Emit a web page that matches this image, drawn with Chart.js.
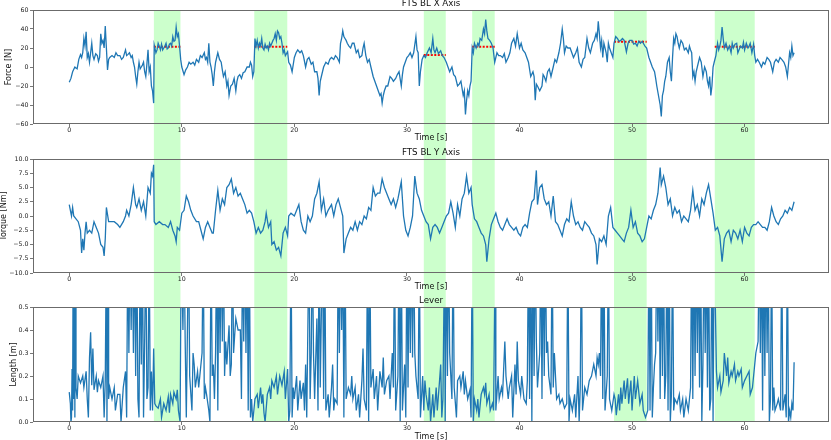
<!DOCTYPE html>
<html>
<head>
<meta charset="utf-8">
<script src="https://cdn.jsdelivr.net/npm/chart.js@4.4.1/dist/chart.umd.min.js"></script>
<style>
  html, body { margin: 0; padding: 0; background: #fff; }
  #wrap { position: relative; width: 831px; height: 440px; }
  #wrap canvas { position: absolute; left: 0; top: 0; }
</style>
</head>
<body>
<div id="wrap">
  <canvas id="c1" width="831" height="440"></canvas>
  <canvas id="c2" width="831" height="440"></canvas>
  <canvas id="c3" width="831" height="440"></canvas>
</div>
<script>
// --- data ---
const xTicks = [0, 10, 20, 30, 40, 50, 60];
const forceTicks = [-60, -40, -20, 0, 20, 40, 60];
const torqueTicks = [-10, -7.5, -5, -2.5, 0, 2.5, 5, 7.5, 10];
const leverTicks = [0, 0.1, 0.2, 0.3, 0.4, 0.5];

// highlighted windows [s] and the red reference force level in each
const bandStart = [7.52, 16.44, 31.5, 35.8, 48.4, 57.35];
const bandEnd = [9.88, 19.37, 33.45, 37.8, 51.3, 60.9];
const refForce = [21.4, 21.4, 12.6, 21.4, 26.6, 21.4];

const forceTime = [
  0, 0.15, 0.3, 0.5, 0.7, 0.85, 1.0, 1.1, 1.2, 1.3,
  1.4, 1.5, 1.6, 1.7, 1.8, 1.9, 2.0, 2.1, 2.2, 2.35,
  2.5, 2.6, 2.7, 2.8, 2.9, 3.0, 3.1, 3.2, 3.3, 3.4,
  3.5, 3.6, 3.8, 4.0, 4.15, 4.3, 4.5, 4.65, 4.8, 5.0,
  5.1, 5.2, 5.35, 5.5, 5.6, 5.7, 5.8, 5.9, 6.0, 6.1,
  6.2, 6.3, 6.4, 6.5, 6.6, 6.7, 6.8, 6.9, 7.0, 7.1,
  7.2, 7.3, 7.4, 7.5,
  7.55, 7.7, 7.8, 7.9, 8.0, 8.1, 8.2, 8.3, 8.4, 8.5,
  8.6, 8.7, 8.8, 8.9, 9.0, 9.1, 9.2, 9.3, 9.4, 9.5,
  9.6, 9.7, 9.8, 9.9, 10.0, 10.2, 10.35, 10.5, 10.65, 10.8,
  11.0, 11.15, 11.3, 11.5, 11.65, 11.8, 12.0, 12.1, 12.2, 12.3,
  12.4, 12.5, 12.6, 12.7, 12.8, 12.9, 13.0, 13.1, 13.2, 13.35,
  13.5, 13.6, 13.7, 13.85, 14.0, 14.1, 14.2, 14.35, 14.5, 14.65,
  14.8, 14.9, 15.0, 15.15, 15.3, 15.45, 15.6, 15.8, 16.0, 16.1,
  16.2, 16.3, 16.4,
  16.5, 16.6, 16.7, 16.8, 16.9, 17.0, 17.1, 17.2, 17.3, 17.4,
  17.5, 17.6, 17.7, 17.8, 17.9, 18.0, 18.1, 18.2, 18.3, 18.4,
  18.5, 18.6, 18.7, 18.8, 18.9, 19.0, 19.1, 19.2, 19.3, 19.4,
  19.5, 19.65, 19.8, 20.0, 20.15, 20.3, 20.5, 20.65, 20.8, 21.0,
  21.15, 21.3, 21.5, 21.65, 21.8, 22.0, 22.1, 22.2, 22.3, 22.4,
  22.6, 22.8, 23.0, 23.15, 23.3, 23.5, 23.65, 23.8, 24.0, 24.1,
  24.2, 24.3, 24.4, 24.5, 24.6, 24.7, 24.85, 25.0, 25.15, 25.3,
  25.5, 25.65, 25.8, 26.0, 26.1, 26.2, 26.35, 26.5, 26.65, 26.8,
  27.0, 27.15, 27.3, 27.45, 27.6, 27.7, 27.8, 27.9, 28.0, 28.15,
  28.3, 28.5, 28.65, 28.8, 29.0, 29.15, 29.3, 29.5, 29.6, 29.7,
  29.85, 30.0, 30.15, 30.3, 30.45, 30.6, 30.8, 30.9, 31.0, 31.1,
  31.2, 31.35, 31.5, 31.65, 31.8, 32.0, 32.15, 32.3, 32.4, 32.5,
  32.65, 32.8, 33.0, 33.15, 33.3, 33.5, 33.65, 33.8, 34.0, 34.15,
  34.3, 34.5, 34.65, 34.8, 35.0, 35.1, 35.2, 35.3, 35.4, 35.5,
  35.6, 35.7, 35.8, 35.9, 36.0, 36.15, 36.3, 36.4, 36.5, 36.65,
  36.8, 36.9, 37.0, 37.1, 37.2, 37.35, 37.5, 37.65, 37.8, 38.0,
  38.15, 38.3, 38.5, 38.65, 38.8, 39.0, 39.15, 39.3, 39.5, 39.65,
  39.8, 40.0, 40.15, 40.3, 40.5, 40.65, 40.8, 41.0, 41.2, 41.3,
  41.4, 41.5, 41.6, 41.8, 42.0, 42.1, 42.2, 42.35, 42.5, 42.65,
  42.8, 43.0, 43.15, 43.3, 43.5, 43.65, 43.8, 43.9, 44.0, 44.15,
  44.3, 44.5, 44.65, 44.8, 45.0, 45.15, 45.3, 45.5, 45.65, 45.8,
  46.0, 46.15, 46.3, 46.5, 46.65, 46.8, 46.9, 47.0, 47.1, 47.2,
  47.3, 47.4, 47.5, 47.6, 47.7, 47.8, 47.9, 48.0, 48.15, 48.3,
  48.4, 48.55, 48.7, 48.85, 49.0, 49.15, 49.3, 49.4, 49.5, 49.65,
  49.8, 50.0, 50.15, 50.3, 50.45, 50.6, 50.75, 50.9, 51.0, 51.15,
  51.3, 51.5, 51.65, 51.8, 52.0, 52.1, 52.2, 52.35, 52.5, 52.6,
  52.7, 52.8, 52.9, 53.0, 53.15, 53.3, 53.4, 53.5, 53.6, 53.7,
  53.8, 53.9, 54.0, 54.1, 54.2, 54.35, 54.5, 54.65, 54.8, 55.0,
  55.1, 55.2, 55.3, 55.4, 55.5, 55.6, 55.7, 55.8, 56.0, 56.15,
  56.3, 56.45, 56.6, 56.7, 56.8, 56.9, 57.0, 57.1, 57.2, 57.3,
  57.45, 57.6, 57.7, 57.8, 57.9, 58.0, 58.1, 58.2, 58.35, 58.5,
  58.65, 58.8, 58.9, 59.0, 59.15, 59.3, 59.4, 59.5, 59.65, 59.8,
  59.9, 60.0, 60.15, 60.3, 60.4, 60.5, 60.65, 60.8, 60.9, 61.0,
  61.15, 61.3, 61.5, 61.65, 61.8, 62.0, 62.15, 62.3, 62.5, 62.65,
  62.8, 63.0, 63.15, 63.3, 63.5, 63.65, 63.8, 64.0, 64.1, 64.2,
  64.3, 64.4
];
const forceValue = [
  -16, -12, -5, 0, -2, 8, 13, 10, 15, 30,
  22, 37, 10, 14, 5, 15, 25, 12, 8, 14,
  12, 6, 10, 35, 25, 28, 20, 43, 20, -3,
  8, 10, 12, 10, 15, 12, 12, 8, 10, 18,
  12, 13, 15, 10, 12, 5, 0, -10, -18, -5,
  5, -2, 0, 2, 5, -5, -10, 3, 18, -5,
  0, -20, -25, -38,
  23, 15, 18, 25, 22, 18, 24, 18, 20, 22,
  25, 19, 20, 24, 25, 22, 32, 27, 28, 42,
  32, 35, 22, 8, 0, -8, -3, 0, 5, 3,
  5, 2, 8, 5, 12, 10, 15, 8, 10, 5,
  25, 5, 0, -8, -20, -5, 5, 10, 15, 8,
  5, -3, -10, -5, -20, -15, -30, -20, -18, -12,
  -25, -15, -10, -8, -12, -6, -5, 0, 0, 5,
  2, -10, -5,
  30, 22, 28, 20, 25, 22, 30, 20, 18, 24,
  20, 22, 18, 25, 22, 25, 28, 30, 35, 28,
  38, 36, 30, 32, 25, 15, 18, 12, 14, 16,
  5, 2, -5, 10, 15, 18, 15, 17, 12, 0,
  8, 10, 3, 5, -5, -5, -12, -30, -15, -10,
  0, 5, 3, 8, 10, 8, 12, 10, 5, 25,
  30, 38, 32, 30, 28, 25, 22, 20, 25, 25,
  15, 18, 10, 12, 20, 25, 12, 5, 8, 0,
  -10, -15, -20, -25, -30, -28, -38, -30, -25, -20,
  -20, -10, -12, -15, -12, -8, -5, -20, -8, 0,
  5, 10, 12, 15, 10, 15, 32, 18, 15, -20,
  -5, 8, 12, 10, 15, 20, 15, 30, 18, 15,
  20, 14, 17, 12, 10, 5, 0, -5, 0, -8,
  -10, -20, -18, -15, -30, -25, -50, -35, -25, -30,
  -20, -15, 20, 15, 25, 20, 25, 22, 30, 28,
  40, 35, 50, 38, 30, 28, 25, 20, 5, 15,
  12, 12, 10, 14, 5, 10, 15, 25, 30, 22,
  35, 20, 25, 18, 15, 10, 5, -10, -5, -10,
  -35, -18, -20, -25, -20, -8, -10, -15, -5, -2,
  -10, 0, 8, 5, 15, 25, 40, 30, 15, 22,
  20, 20, 15, 10, 15, 20, 5, 0, 8, 10,
  30, 20, 15, 25, 28, 35, 30, 48, 35, 20,
  28, 10, 25, 20, 15, 5, 25, 20, 15, 10,
  25, 32, 30, 27, 28, 30, 28, 22, 16, 25,
  28, 28, 24, 25, 22, 27, 25, 27, 25, 22,
  20, 10, 5, 0, -5, -12, -20, -30, -40, -52,
  -30, -25, -15, -10, 5, 10, -5, -15, 10, 30,
  25, 35, 32, 25, 20, 28, 25, 18, 20, 15,
  22, 18, 15, -10, -5, -15, -5, 0, 10, 5,
  -10, 0, -5, -15, -20, -10, -30, -20, 0, 5,
  12, 25, 18, 22, 28, 42, 30, 20, 25, 18,
  22, 15, 25, 20, 24, 25, 15, 18, 22, 20,
  26, 18, 25, 20, 22, 25, 15, 24, 12, 5,
  8, 5, 0, 5, 3, 10, 8, 5, -5, 5,
  8, 5, 10, 8, 5, 0, -10, 15, 10, 22,
  12, 15
];

const torqueTime = [
  0, 0.1, 0.2, 0.3, 0.4, 0.6, 0.8, 1.0, 1.1, 1.2,
  1.3, 1.4, 1.5, 1.6, 1.8, 2.0, 2.2, 2.4, 2.6, 2.8,
  3.0, 3.1, 3.2, 3.3, 3.5, 3.7, 4.0, 4.3, 4.5, 4.8,
  5.0, 5.1, 5.3, 5.5, 5.6, 5.7, 5.9, 6.0, 6.2, 6.4,
  6.6, 6.8, 7.0, 7.2, 7.3, 7.4, 7.5, 7.55, 7.7, 8.0,
  8.3, 8.5, 8.8, 9.0, 9.2, 9.4, 9.5, 9.6, 9.8, 10.0,
  10.2, 10.4, 10.6, 10.8, 11.0, 11.3, 11.5, 11.7, 11.9, 12.1,
  12.3, 12.5, 12.7, 12.8, 13.0, 13.2, 13.4, 13.6, 13.8, 14.0,
  14.2, 14.4, 14.6, 14.8, 15.0, 15.2, 15.4, 15.6, 15.8, 16.0,
  16.2, 16.4, 16.6, 16.8, 17.0, 17.2, 17.4, 17.5, 17.7, 17.9,
  18.0, 18.2, 18.4, 18.6, 18.8, 19.0, 19.2, 19.4, 19.5, 19.7,
  20.0, 20.2, 20.4, 20.6, 20.8, 21.0, 21.2, 21.4, 21.6, 21.8,
  22.0, 22.2, 22.4, 22.6, 22.8, 23.0, 23.3, 23.5, 23.7, 23.9,
  24.1, 24.3, 24.4, 24.6, 24.8, 25.0, 25.2, 25.4, 25.6, 25.8,
  26.0, 26.2, 26.4, 26.6, 26.8, 27.0, 27.2, 27.4, 27.6, 27.8,
  28.0, 28.2, 28.4, 28.6, 28.8, 29.0, 29.2, 29.4, 29.5, 29.7,
  29.9, 30.1, 30.3, 30.5, 30.7, 30.9, 31.1, 31.3, 31.5, 31.7,
  31.9, 32.1, 32.3, 32.5, 32.7, 32.9, 33.1, 33.3, 33.5, 33.7,
  33.9, 34.1, 34.3, 34.5, 34.7, 34.9, 35.1, 35.3, 35.5, 35.7,
  35.8, 36.0, 36.2, 36.4, 36.6, 36.8, 37.0, 37.1, 37.3, 37.5,
  37.7, 37.9, 38.1, 38.3, 38.5, 38.7, 38.9, 39.1, 39.3, 39.5,
  39.7, 39.9, 40.1, 40.3, 40.5, 40.7, 40.9, 41.1, 41.3, 41.5,
  41.6, 41.8, 42.0, 42.2, 42.4, 42.6, 42.8, 43.0, 43.2, 43.4,
  43.6, 43.8, 44.0, 44.2, 44.4, 44.6, 44.8, 45.0, 45.2, 45.4,
  45.6, 45.8, 46.0, 46.2, 46.4, 46.6, 46.8, 46.9, 47.1, 47.3,
  47.5, 47.7, 47.9, 48.1, 48.3, 48.5, 48.7, 48.9, 49.1, 49.3,
  49.5, 49.7, 49.9, 50.1, 50.3, 50.5, 50.7, 50.9, 51.1, 51.3,
  51.5, 51.7, 51.9, 52.1, 52.3, 52.5, 52.6, 52.8, 53.0, 53.2,
  53.4, 53.6, 53.8, 54.0, 54.2, 54.4, 54.6, 54.8, 55.0, 55.2,
  55.4, 55.6, 55.8, 56.0, 56.2, 56.4, 56.6, 56.8, 57.0, 57.2,
  57.4, 57.6, 57.8, 58.0, 58.2, 58.4, 58.6, 58.8, 59.0, 59.2,
  59.4, 59.6, 59.8, 60.0, 60.2, 60.4, 60.6, 60.8, 61.0, 61.2,
  61.4, 61.6, 61.8, 62.0, 62.2, 62.4, 62.6, 62.8, 63.0, 63.2,
  63.4, 63.6, 63.8, 64.0, 64.2, 64.4
];
const torqueValue = [
  2, 1, 0, 1.5, 0, -0.5, -1, -2.5, -6.5, -4,
  -6, -3, -1, -3, -2.5, -3, -1, -2, -3, -5,
  -5.5, -7, -4, 1.5, -1, -1, -1, -1.5, -2, -1,
  0, 1, 0, 2, 3.5, 5, 2, 1.5, 3, 1,
  2.5, 0, 5, 4, 7.5, 7, 9, -1, -1.5, -1,
  -1.5, -1.5, -2, -1, -2.5, -3.5, -4.5, -2, -2.5, 0.5,
  1, 3.5, 2.5, 1, 0, -1, -1, -2.5, -4, -2,
  -1, -2, -3, -3, 1, 4.5, 1, 3, 2, 5,
  5.5, 6.5, 4, 5, 3.5, 4, 3, 2, 0.5, 1,
  0.5, -1, -3, -2, -3, -2.5, -1, 0.5, -2, -1,
  -5, -4.5, -6, -5.5, -7, -3, -2, -3.5, 0, 0.5,
  0, 1, 2, -1, -2.5, -3, 0, -1, 0, 3,
  4, 6, 1, 3, 0, 1, 2, 0, 2, 3,
  1.5, 0, -6.5, -4, -3, -2, -2.5, -1, -2.5, -1,
  -1.5, 0, -0.5, 1.5, 1, 5, 3.5, 4, 4, 6.5,
  5, 4, 3, 2, 3, 1.5, 3, 5, 6, 0,
  -2.5, -3.5, -2, 0, 7, 4, 3, 1, 0, -1,
  -1.5, -4, -2, -1.5, -2, -3, -2, -1, 0, 0.5,
  2.5, 0.5, -2, 2, 0, 3, 4, 7, 4, 5,
  2, -0.5, -1, -2, -3, -3.5, -5, -8, -4, -1.5,
  -0.5, 0.5, -1, -2, -2.5, -1.5, -0.5, -1.5, -2, -2.5,
  -2, -3, -3.5, -2, -1.5, -2, 0.5, 2.5, 3, 8,
  2, 5, 5.5, 3, 2, 2.5, 0, 3.5, -1, -1.5,
  -2.5, -3.5, -1.5, -0.5, -1, 2.5, 0, -1.5, -1, -2,
  -2.5, -1, -1.5, -2, -3, -3.5, -5, -8.5, -4, -4.5,
  -3.5, -5, 0, 1.5, -2, -2.5, -3, -3.5, -4, -4.5,
  -3, -2, 1, -2, -1, -3, -3.5, -4.5, -4, -2,
  0, -0.5, 1, 2, 4, 8.5, 5.5, 7, 5, 2,
  3, 0, 1.5, 0.5, 1, -1, 0, -0.5, -1, 1,
  4.5, 1, 2, 0, 3, 2, 4, 5.5, 3, 0.5,
  -2.5, -2, -3.5, -8, -4, -3, -2.5, -4.5, -2.5, -3,
  -4, -2.5, -4.5, -2, -3, -3.5, -2, -1.5, -1.5, -1,
  -1.5, -2, -2, -2.5, -1, 1.5, 0, -1, -1.5, -0.5,
  0, 1, 0.5, 1.5, 1, 2.5
];

// lever spikes run above the axis top (0.5) and get clipped, as in the picture
const leverTime = [
  0, 0.1, 0.15, 0.2, 0.25, 0.3, 0.35, 0.4, 0.45, 0.5,
  0.55, 0.6, 0.7, 0.8, 1.0, 1.2, 1.3, 1.5, 1.6, 1.7,
  1.8, 1.9, 2.0, 2.1, 2.2, 2.4, 2.5, 2.6, 2.8, 3.0,
  3.1, 3.2, 3.3, 3.35, 3.45, 3.5, 3.6, 3.8, 4.0, 4.1,
  4.3, 4.5, 4.6, 4.8, 5.0, 5.1, 5.2, 5.3, 5.4, 5.5,
  5.6, 5.7, 5.8, 5.9, 6.0, 6.1, 6.2, 6.3, 6.4, 6.5,
  6.6, 6.7, 6.8, 6.9, 7.0, 7.1, 7.2, 7.3, 7.4, 7.5,
  7.6, 7.7, 7.9, 8.1, 8.2, 8.4, 8.6, 8.8, 8.9, 9.0,
  9.2, 9.3, 9.5, 9.6, 9.7, 9.85, 9.95, 10.1, 10.2, 10.3,
  10.4, 10.5, 10.6, 10.7, 10.9, 11.0, 11.1, 11.2, 11.4, 11.5,
  11.6, 11.8, 11.9, 12.0, 12.1, 12.2, 12.4, 12.5, 12.6, 12.7,
  12.8, 12.9, 13.0, 13.1, 13.2, 13.3, 13.4, 13.5, 13.6, 13.7,
  13.8, 13.9, 14.0, 14.2, 14.3, 14.4, 14.5, 14.6, 14.7, 14.8,
  15.0, 15.2, 15.3, 15.4, 15.5, 15.6, 15.7, 15.8, 15.9, 16.0,
  16.1, 16.2, 16.3, 16.4, 16.5, 16.7, 16.8, 17.0, 17.1, 17.2,
  17.3, 17.4, 17.6, 17.8, 17.9, 18.0, 18.2, 18.4, 18.5, 18.7,
  18.9, 19.1, 19.2, 19.4, 19.5, 19.6, 19.7, 19.8, 19.9, 20.0,
  20.2, 20.3, 20.5, 20.6, 20.8, 20.9, 21.0, 21.1, 21.3, 21.4,
  21.5, 21.6, 21.7, 21.8, 22.0, 22.1, 22.2, 22.3, 22.5, 22.6,
  22.7, 22.8, 23.0, 23.1, 23.3, 23.4, 23.5, 23.6, 23.8, 23.9,
  24.0, 24.1, 24.2, 24.3, 24.4, 24.5, 24.6, 24.8, 25.0, 25.1,
  25.2, 25.4, 25.5, 25.7, 25.8, 26.0, 26.1, 26.2, 26.4, 26.5,
  26.6, 26.7, 26.8, 27.0, 27.1, 27.3, 27.4, 27.6, 27.8, 27.9,
  28.0, 28.2, 28.4, 28.5, 28.7, 28.8, 28.9, 29.0, 29.2, 29.3,
  29.4, 29.5, 29.6, 29.8, 29.9, 30.0, 30.1, 30.2, 30.3, 30.4,
  30.5, 30.6, 30.7, 30.8, 31.0, 31.1, 31.2, 31.4, 31.5, 31.6,
  31.7, 31.9, 32.0, 32.1, 32.3, 32.4, 32.6, 32.7, 32.9, 33.0,
  33.1, 33.2, 33.35, 33.4, 33.5, 33.6, 33.7, 33.8, 34.0, 34.1,
  34.2, 34.4, 34.5, 34.7, 34.8, 35.0, 35.1, 35.2, 35.4, 35.6,
  35.7, 35.8, 35.9, 36.0, 36.2, 36.3, 36.4, 36.6, 36.8, 36.9,
  37.0, 37.1, 37.3, 37.4, 37.6, 37.7, 37.85, 37.9, 38.1, 38.2,
  38.4, 38.5, 38.7, 38.8, 39.0, 39.1, 39.3, 39.4, 39.6, 39.7,
  39.8, 39.9, 40.1, 40.2, 40.4, 40.6, 40.7, 40.8, 40.9, 41.0,
  41.1, 41.2, 41.3, 41.4, 41.5, 41.6, 41.8, 41.9, 42.0, 42.1,
  42.2, 42.3, 42.4, 42.5, 42.6, 42.8, 42.9, 43.0, 43.1, 43.3,
  43.5, 43.6, 43.8, 44.0, 44.2, 44.3, 44.4, 44.5, 44.7, 44.9,
  45.0, 45.2, 45.3, 45.4, 45.5, 45.6, 45.8, 46.0, 46.2, 46.4,
  46.6, 46.8, 46.9, 47.0, 47.1, 47.2, 47.3, 47.4, 47.5, 47.6,
  47.8, 47.9, 48.0, 48.2, 48.4, 48.5, 48.6, 48.8, 48.9, 49.0,
  49.1, 49.3, 49.4, 49.6, 49.7, 49.9, 50.0, 50.2, 50.3, 50.5,
  50.7, 50.9, 51.0, 51.2, 51.4, 51.5, 51.6, 51.7, 51.8, 51.9,
  52.0, 52.1, 52.2, 52.3, 52.4, 52.5, 52.6, 52.7, 52.8, 52.9,
  53.0, 53.1, 53.2, 53.3, 53.4, 53.5, 53.6, 53.7, 53.8, 54.0,
  54.2, 54.3, 54.5, 54.6, 54.8, 55.0, 55.2, 55.3, 55.4, 55.5,
  55.6, 55.7, 55.8, 55.9, 56.0, 56.1, 56.2, 56.3, 56.4, 56.5,
  56.6, 56.7, 56.8, 56.9, 57.0, 57.1, 57.2, 57.3, 57.5, 57.6,
  57.8, 57.9, 58.1, 58.2, 58.4, 58.5, 58.6, 58.8, 58.9, 59.1,
  59.2, 59.4, 59.5, 59.7, 59.8, 60.0, 60.2, 60.4, 60.5, 60.7,
  60.9, 61.0, 61.2, 61.3, 61.4, 61.5, 61.6, 61.7, 61.8, 61.9,
  62.0, 62.1, 62.2, 62.3, 62.4, 62.5, 62.6, 62.7, 62.9, 63.0,
  63.2, 63.3, 63.4, 63.6, 63.7, 63.8, 63.9, 64.0, 64.1, 64.2,
  64.3, 64.4
];
const leverValue = [
  0.13, 0.08, 0.0, 0.02, 0.23, 0.05, 0.8, 0.1, 0.8, 0.02,
  0.8, 0.15, 0.1, 0.2, 0.17, 0.2, 0.15, 0.22, 0.1, 0.02,
  0.28, 0.39, 0.16, 0.32, 0.14, 0.2, 0.13, 0.18, 0.15, 0.2,
  0.02, 0.18, 0.8, 0.0, 0.8, 0.1, 0.15, 0.1, 0.15, 0.05,
  0.12, 0.12, 0.0, 0.15, 0.22, 0.02, 0.8, 0.3, 0.8, 0.4,
  0.8, 0.3, 0.8, 0.2, 0.8, 0.1, 0.02, 0.8, 0.25, 0.8,
  0.02, 0.35, 0.8, 0.1, 0.15, 0.8, 0.05, 0.22, 0.05, 0.32,
  0.08, 0.07, 0.06, 0.1, 0.02, 0.08, 0.05, 0.11, 0.04, 0.12,
  0.08, 0.13, 0.1, 0.14, 0.05, 0.0, 0.8, 0.4, 0.8, 0.35,
  0.02, 0.4, 0.8, 0.2, 0.05, 0.3, 0.25, 0.15, 0.22, 0.15,
  0.2, 0.3, 0.8, 0.1, 0.15, 0.12, 0.05, 0.0, 0.8, 0.2,
  0.25, 0.1, 0.3, 0.8, 0.05, 0.8, 0.3, 0.8, 0.35, 0.8,
  0.2, 0.35, 0.25, 0.42, 0.2, 0.25, 0.8, 0.3, 0.38, 0.45,
  0.4, 0.4, 0.1, 0.8, 0.35, 0.8, 0.3, 0.8, 0.05, 0.8,
  0.02, 0.1, 0.0, 0.05, 0.1, 0.12, 0.06, 0.15, 0.08, 0.12,
  0.04, 0.0, 0.12, 0.15, 0.1, 0.18, 0.15, 0.2, 0.12, 0.2,
  0.16, 0.22, 0.1, 0.23, 0.0, 0.05, 0.8, 0.02, 0.15, 0.1,
  0.2, 0.05, 0.18, 0.1, 0.17, 0.05, 0.25, 0.02, 0.8, 0.1,
  0.3, 0.8, 0.3, 0.1, 0.45, 0.05, 0.8, 0.15, 0.8, 0.1,
  0.8, 0.05, 0.12, 0.02, 0.15, 0.25, 0.05, 0.1, 0.08, 0.8,
  0.3, 0.8, 0.4, 0.8, 0.02, 0.8, 0.1, 0.15, 0.12, 0.2,
  0.1, 0.15, 0.05, 0.12, 0.02, 0.18, 0.32, 0.1, 0.05, 0.8,
  0.0, 0.8, 0.15, 0.23, 0.1, 0.2, 0.05, 0.22, 0.15, 0.28,
  0.12, 0.18, 0.2, 0.1, 0.3, 0.15, 0.8, 0.05, 0.2, 0.8,
  0.0, 0.8, 0.05, 0.25, 0.02, 0.8, 0.15, 0.8, 0.3, 0.8,
  0.28, 0.8, 0.3, 0.2, 0.1, 0.8, 0.02, 0.2, 0.05, 0.18,
  0.12, 0.05, 0.15, 0.0, 0.12, 0.02, 0.15, 0.05, 0.18, 0.25,
  0.02, 0.1, 0.8, 0.0, 0.8, 0.2, 0.8, 0.3, 0.1, 0.8,
  0.15, 0.02, 0.18, 0.2, 0.15, 0.22, 0.12, 0.18, 0.1, 0.14,
  0.02, 0.8, 0.0, 0.1, 0.05, 0.1, 0.02, 0.12, 0.15, 0.12,
  0.17, 0.08, 0.12, 0.05, 0.08, 0.05, 0.8, 0.05, 0.2, 0.1,
  0.15, 0.12, 0.35, 0.2, 0.1, 0.15, 0.2, 0.02, 0.25, 0.12,
  0.35, 0.18, 0.12, 0.2, 0.1, 0.08, 0.18, 0.8, 0.1, 0.8,
  0.0, 0.8, 0.2, 0.8, 0.35, 0.15, 0.3, 0.8, 0.1, 0.8,
  0.2, 0.8, 0.3, 0.35, 0.2, 0.12, 0.8, 0.15, 0.3, 0.1,
  0.12, 0.08, 0.1, 0.06, 0.08, 0.8, 0.0, 0.1, 0.05, 0.12,
  0.02, 0.2, 0.0, 0.15, 0.8, 0.05, 0.15, 0.12, 0.18, 0.2,
  0.25, 0.2, 0.28, 0.25, 0.3, 0.2, 0.8, 0.1, 0.8, 0.05,
  0.2, 0.8, 0.1, 0.05, 0.12, 0.1, 0.03, 0.12, 0.05, 0.15,
  0.08, 0.18, 0.1, 0.19, 0.08, 0.18, 0.05, 0.2, 0.1, 0.18,
  0.08, 0.12, 0.05, 0.02, 0.05, 0.8, 0.05, 0.8, 0.02, 0.15,
  0.25, 0.3, 0.8, 0.35, 0.8, 0.1, 0.8, 0.2, 0.8, 0.1,
  0.2, 0.8, 0.05, 0.8, 0.0, 0.12, 0.8, 0.05, 0.1, 0.08,
  0.12, 0.05, 0.1, 0.02, 0.1, 0.05, 0.15, 0.8, 0.1, 0.8,
  0.2, 0.8, 0.3, 0.8, 0.15, 0.8, 0.0, 0.25, 0.8, 0.3,
  0.8, 0.15, 0.8, 0.05, 0.1, 0.8, 0.0, 0.8, 0.22, 0.15,
  0.2, 0.13, 0.18, 0.3, 0.2, 0.28, 0.17, 0.22, 0.2, 0.25,
  0.18, 0.22, 0.2, 0.23, 0.15, 0.18, 0.2, 0.22, 0.12, 0.15,
  0.25, 0.3, 0.35, 0.8, 0.3, 0.8, 0.05, 0.8, 0.2, 0.8,
  0.3, 0.8, 0.0, 0.1, 0.8, 0.05, 0.15, 0.05, 0.08, 0.1,
  0.05, 0.8, 0.05, 0.12, 0.02, 0.8, 0.0, 0.05, 0.02, 0.08,
  0.05, 0.26
];

// --- drawing ---
const BLUE = '#1f77b4';
const FONT = 'DejaVu Sans';
const X_MIN = -3.22, X_MAX = 67.5;

const zip = (ts, vs) => ts.map((t, i) => ({ x: t, y: vs[i] }));
const minus = s => s.replace('-', '\u2212');

// shaded windows span all three panels; painted first so ticks/text sit on top
const bandPlugin = {
  id: 'bands',
  beforeDraw(chart) {
    const { ctx, scales: { x } } = chart;
    ctx.save();
    ctx.fillStyle = 'rgb(204,255,204)';
    bandStart.forEach((s, i) => {
      const x0 = x.getPixelForValue(s), x1 = x.getPixelForValue(bandEnd[i]);
      ctx.fillRect(x0, 10, x1 - x0, 422 - 10);
    });
    ctx.restore();
  }
};

// frame, title and axis labels, matplotlib-like
const panelPlugin = {
  id: 'panel',
  afterDraw(chart, args, opts) {
    const { ctx, chartArea: a } = chart;
    const cx = (a.left + a.right) / 2;
    ctx.save();
    ctx.strokeStyle = '#6b6b6b';
    ctx.lineWidth = 1;
    ctx.strokeRect(a.left + 0.5, a.top + 0.5, a.right - a.left - 1, a.bottom - a.top - 1);
    ctx.fillStyle = '#111';
    ctx.textAlign = 'center';
    ctx.textBaseline = 'middle';
    ctx.font = '8.7px ' + FONT;
    ctx.fillText(opts.title, cx, a.top - 6);
    ctx.font = '8px ' + FONT;
    ctx.fillText('Time [s]', cx, a.bottom + opts.xlabelGap);
    ctx.translate(opts.ylabelX, (a.top + a.bottom) / 2);
    ctx.rotate(-Math.PI / 2);
    ctx.fillText(opts.ylabel, 0, 0);
    ctx.restore();
  }
};

function makePanel(id, p) {
  const datasets = [{
    data: zip(p.time, p.value),
    borderColor: BLUE,
    borderWidth: 1.3,
    pointRadius: 0,
    tension: 0
  }].concat(p.extra || []);

  return new Chart(document.getElementById(id), {
    type: 'line',
    data: { datasets },
    options: {
      responsive: false,
      animation: false,
      devicePixelRatio: 1,
      layout: { padding: { left: 0, right: 2, top: p.top, bottom: p.bottom } },
      plugins: {
        legend: { display: false },
        tooltip: { enabled: false },
        panel: { title: p.title, ylabel: p.ylabel, ylabelX: p.ylabelX, xlabelGap: p.xlabelGap }
      },
      scales: {
        x: {
          type: 'linear',
          min: X_MIN, max: X_MAX,
          afterBuildTicks: s => { s.ticks = xTicks.map(v => ({ value: v })); },
          afterFit: s => { s.height = 16; },
          grid: { drawOnChartArea: false, tickLength: 3, color: '#555', lineWidth: 0.8 },
          border: { display: false },
          ticks: { padding: 0, color: '#222', font: { family: FONT, size: 6.3, lineHeight: 1 }, maxRotation: 0, callback: v => String(v) }
        },
        y: {
          min: p.yMin, max: p.yMax,
          afterBuildTicks: s => { s.ticks = p.yTicks.map(v => ({ value: v })); },
          afterFit: s => { s.width = 33; },
          grid: { drawOnChartArea: false, tickLength: 3, color: '#555', lineWidth: 0.8 },
          border: { display: false },
          ticks: { padding: 1.5, color: '#222', font: { family: FONT, size: 6.3 }, callback: v => minus(p.fmt(v)) }
        }
      }
    },
    plugins: (p.withBands ? [bandPlugin] : []).concat([panelPlugin])
  });
}

const refLines = bandStart.map((s, i) => ({
  data: [{ x: s, y: refForce[i] }, { x: bandEnd[i], y: refForce[i] }],
  borderColor: 'red',
  borderWidth: 2,
  borderDash: [2, 1.5],
  pointRadius: 0
}));

makePanel('c1', {
  top: 10, bottom: 440 - 124 - 16,
  time: forceTime, value: forceValue, extra: refLines,
  yMin: -60, yMax: 60, yTicks: forceTicks, fmt: v => String(v),
  title: 'FTS BL X Axis', ylabel: 'Force [N]', ylabelX: 9, xlabelGap: 13.5,
  withBands: true
});
makePanel('c2', {
  top: 159, bottom: 440 - 273 - 16,
  time: torqueTime, value: torqueValue,
  yMin: -10, yMax: 10, yTicks: torqueTicks, fmt: v => v.toFixed(1),
  title: 'FTS BL Y Axis', ylabel: 'Torque [Nm]', ylabelX: 3.5, xlabelGap: 13.5
});
makePanel('c3', {
  top: 307, bottom: 440 - 422 - 16,
  time: leverTime, value: leverValue,
  yMin: 0, yMax: 0.5, yTicks: leverTicks, fmt: v => v.toFixed(1),
  title: 'Lever', ylabel: 'Length [m]', ylabelX: 13.5, xlabelGap: 14.5
});
</script>
</body>
</html>
